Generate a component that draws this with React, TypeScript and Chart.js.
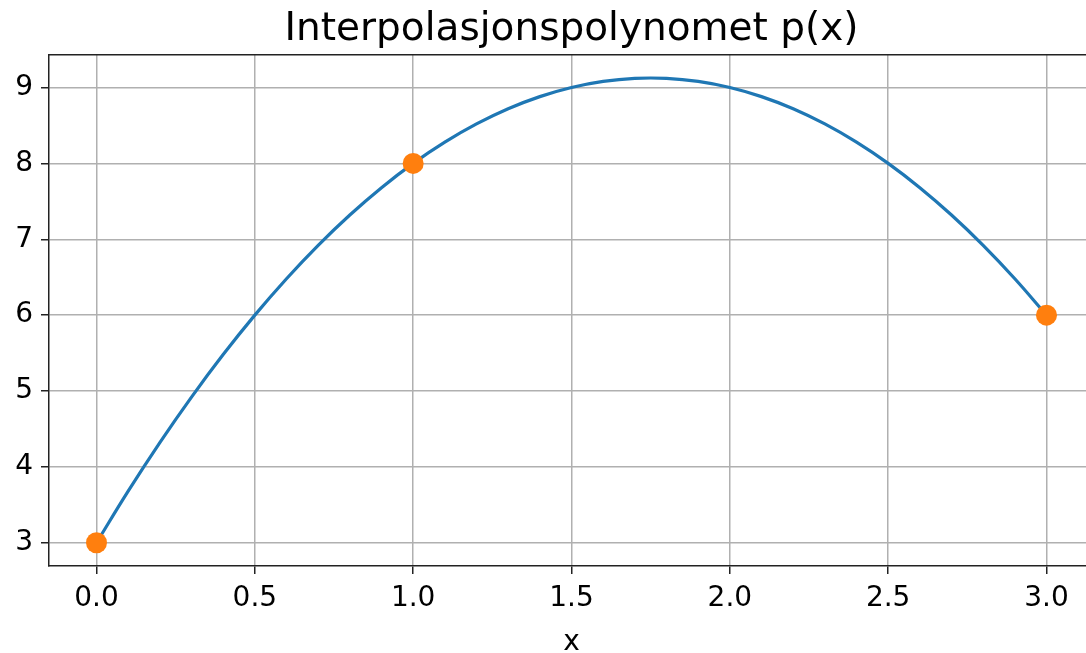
import React, { useEffect, useRef } from "react";
import { Chart, registerables } from "chart.js";

Chart.register(...registerables);

const TITLE = "Interpolasjonspolynomet p(x)";
const X_LABEL = "x";

// Interpolation points (orange)
const nodeX = [0, 1, 3];
const nodeY = [3, 8, 6];

// Curve p(x)
const curveX = [
  0, 0.1, 0.2, 0.3, 0.4, 0.5, 0.6, 0.7, 0.8, 0.9, 1.0, 1.1, 1.2, 1.3, 1.4, 1.5,
  1.6, 1.7, 1.8, 1.9, 2.0, 2.1, 2.2, 2.3, 2.4, 2.5, 2.6, 2.7, 2.8, 2.9, 3.0,
];
const curveY = [
  3, 3.68, 4.32, 4.92, 5.48, 6.0, 6.48, 6.92, 7.32, 7.68, 8.0, 8.28, 8.52, 8.72,
  8.88, 9.0, 9.08, 9.12, 9.12, 9.08, 9.0, 8.88, 8.72, 8.52, 8.28, 8.0,
  7.68, 7.32, 6.92, 6.48, 6.0,
];

const xTicks = [0, 0.5, 1.0, 1.5, 2.0, 2.5, 3.0];
const yTicks = [3, 4, 5, 6, 7, 8, 9];

const X_MIN = -0.15;
const X_MAX = 3.15;
const Y_MIN = 2.694;
const Y_MAX = 9.431;

const FONT = "'DejaVu Sans', sans-serif";

const topSpine = {
  id: "topSpine",
  afterDatasetsDraw(chart: any) {
    const { ctx, chartArea } = chart;
    ctx.save();
    ctx.strokeStyle = "#222";
    ctx.lineWidth = 1.5;
    ctx.beginPath();
    ctx.moveTo(chartArea.left, chartArea.top);
    ctx.lineTo(chartArea.right, chartArea.top);
    ctx.moveTo(chartArea.right, chartArea.top);
    ctx.lineTo(chartArea.right, chartArea.bottom);
    ctx.stroke();
    ctx.restore();
  },
};

export default function App() {
  const ref = useRef<HTMLCanvasElement | null>(null);

  useEffect(() => {
    if (!ref.current) return;
    document.body.style.margin = "0";
    const chart = new Chart(ref.current, {
      type: "line",
      data: {
        datasets: [
          {
            label: "punkter",
            data: nodeX.map((x, i) => ({ x, y: nodeY[i] })),
            showLine: false,
            pointRadius: 10.5,
            pointBackgroundColor: "#ff7f0e",
            pointBorderColor: "#ff7f0e",
            pointBorderWidth: 0,
            borderColor: "#ff7f0e",
            backgroundColor: "#ff7f0e",
          },
          {
            label: "p(x)",
            data: curveX.map((x, i) => ({ x, y: curveY[i] })),
            borderColor: "#1f77b4",
            borderWidth: 3.2,
            pointRadius: 0,
            tension: 0.4,
            fill: false,
          },
        ],
      },
      options: {
        responsive: false,
        animation: false,
        devicePixelRatio: 1,
        layout: { padding: 0, autoPadding: false },
        plugins: {
          legend: { display: false },
          tooltip: { enabled: false },
          title: {
            display: true,
            text: TITLE,
            color: "#000",
            fullSize: false,
            font: { family: FONT, size: 39, weight: "normal" },
            padding: { top: 6, bottom: 2 },
          },
        },
        scales: {
          x: {
            type: "linear",
            min: X_MIN,
            max: X_MAX,
            afterBuildTicks: (s: any) => {
              s.ticks = xTicks.map((v) => ({ value: v }));
            },
            afterFit: (s: any) => {
              s.height = 87;
            },
            ticks: {
              color: "#000",
              font: { family: FONT, size: 28 },
              padding: 8,
              autoSkip: false,
              maxRotation: 0,
              callback: (v: any) => Number(v).toFixed(1),
            },
            grid: {
              color: "#b0b0b0",
              lineWidth: 1.5,
              tickColor: "#222",
              tickWidth: 1.5,
              tickLength: 8,
            },
            border: { display: true, color: "#222", width: 1.5 },
            title: {
              display: true,
              text: X_LABEL,
              color: "#000",
              font: { family: FONT, size: 28 },
              padding: { top: 0, bottom: -7 },
            },
          },
          y: {
            type: "linear",
            min: Y_MIN,
            max: Y_MAX,
            afterBuildTicks: (s: any) => {
              s.ticks = yTicks.map((v) => ({ value: v }));
            },
            afterFit: (s: any) => {
              s.width = 49;
            },
            ticks: {
              color: "#000",
              font: { family: FONT, size: 28 },
              padding: 8,
              autoSkip: false,
              callback: (v: any) => String(v),
            },
            grid: {
              color: "#b0b0b0",
              lineWidth: 1.5,
              tickColor: "#222",
              tickWidth: 1.5,
              tickLength: 8,
            },
            border: { display: true, color: "#222", width: 1.5 },
          },
        },
      },
      plugins: [topSpine],
    });
    return () => chart.destroy();
  }, []);

  return (
    <div
      style={{
        position: "fixed",
        left: 0,
        top: 0,
        width: 1086,
        height: 653,
        overflow: "hidden",
        background: "#fff",
      }}
    >
      <canvas
        ref={ref}
        width={1094}
        height={653}
        style={{ display: "block", width: 1094, height: 653 }}
      />
    </div>
  );
}
